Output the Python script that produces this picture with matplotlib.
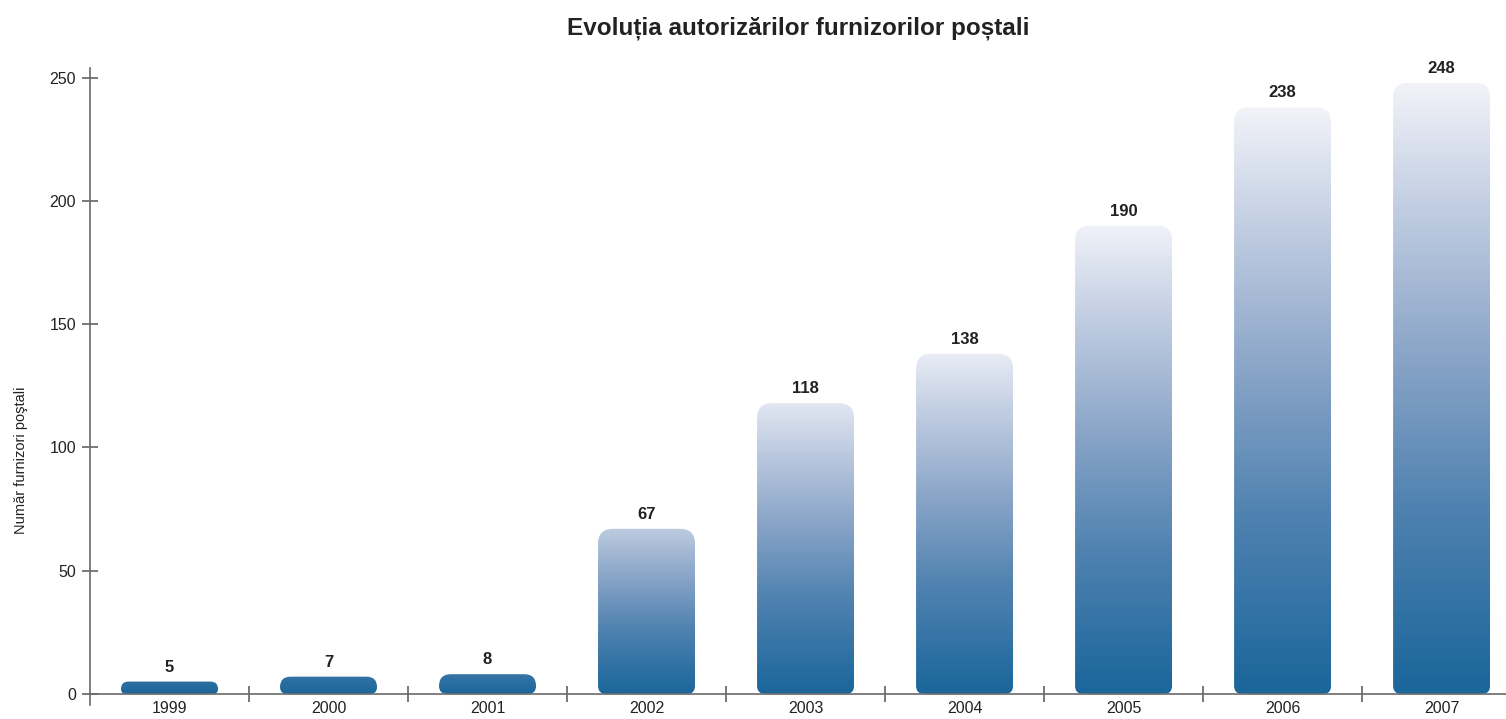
import matplotlib
matplotlib.use("Agg")
import matplotlib.pyplot as plt
import numpy as np
from matplotlib.path import Path
from matplotlib.patches import PathPatch
from matplotlib.colors import LinearSegmentedColormap

plt.rcParams['font.family'] = ['Liberation Sans', 'DejaVu Sans']

# data
years = ['1999', '2000', '2001', '2002', '2003', '2004', '2005', '2006', '2007']
furnizori = [5, 7, 8, 67, 118, 138, 190, 238, 248]

title = 'Evoluția autorizărilor furnizorilor poștali'
ylabel = 'Număr furnizori poştali'

# gradient: dark blue at the foot, pale at the top
cmap = LinearSegmentedColormap.from_list('bar', [
    (0.00, '#1b669b'),
    (0.30, '#4f82b0'),
    (0.55, '#8aa5c8'),
    (0.80, '#c3cfe3'),
    (1.00, '#f3f4f9'),
])

W, H = 1506, 719
fig = plt.figure(figsize=(W / 100, H / 100), dpi=100)
ax = fig.add_axes([90 / W, 14 / H, 1 - 90 / W, (705 - 68) / H])

xlo, xhi = -0.5, 8.405
ylo, yhi = -4.5, 254
ax.set_xlim(xlo, xhi)
ax.set_ylim(ylo, yhi)

# pixel size of one data unit, used to keep the corners round
sx = (W - 90) / (xhi - xlo)
sy = (705 - 68) / (yhi - ylo)

bw = 0.61


def bar_path(xc, h):
    hp = h * sy
    rt = min(15.0, hp * 0.6)
    rb = min(8.0, hp * 0.4)
    rtx, rty = rt / sx, rt / sy
    rbx, rby = rb / sx, rb / sy
    x0, x1 = xc - bw / 2, xc + bw / 2
    verts = [
        (x0 + rbx, 0),
        (x1 - rbx, 0),
        (x1, 0), (x1, rby),
        (x1, h - rty),
        (x1, h), (x1 - rtx, h),
        (x0 + rtx, h),
        (x0, h), (x0, h - rty),
        (x0, rby),
        (x0, 0), (x0 + rbx, 0),
        (x0 + rbx, 0),
    ]
    codes = [Path.MOVETO, Path.LINETO,
             Path.CURVE3, Path.CURVE3,
             Path.LINETO,
             Path.CURVE3, Path.CURVE3,
             Path.LINETO,
             Path.CURVE3, Path.CURVE3,
             Path.LINETO,
             Path.CURVE3, Path.CURVE3,
             Path.CLOSEPOLY]
    return Path(verts, codes)


for i, v in enumerate(furnizori):
    patch = PathPatch(bar_path(i, v), facecolor='none', edgecolor='none')
    ax.add_patch(patch)
    # short bars never reach the pale end of the ramp
    f = 1 - np.exp(-v / 45.0)
    t = np.linspace(0, 1, 256) * f
    grad = cmap(t)[:, np.newaxis, :]
    im = ax.imshow(grad, extent=(i - bw / 2, i + bw / 2, 0, v), origin='lower',
                   aspect='auto', interpolation='bilinear', zorder=2)
    im.set_clip_path(patch)
    ax.annotate(str(v), (i, v), xytext=(0, 5), textcoords='offset points',
                ha='center', va='bottom', fontsize=12, fontweight='bold',
                color='#222222')

ax.set_xlim(xlo, xhi)
ax.set_ylim(ylo, yhi)

for s in ['top', 'right']:
    ax.spines[s].set_visible(False)
ax.spines['bottom'].set_position(('data', 0))
for s in ['left', 'bottom']:
    ax.spines[s].set_color('#6a6a6a')
    ax.spines[s].set_linewidth(1.2)

ax.set_yticks([0, 50, 100, 150, 200, 250])
ax.tick_params(axis='y', direction='inout', length=12, width=1.1, color='#555555',
               labelsize=11.5, labelcolor='#222222', pad=4)

ax.set_xticks(range(len(years)))
ax.set_xticklabels(years)
ax.set_xticks(np.arange(0.5, 8.0, 1.0), minor=True)
ax.tick_params(axis='x', which='major', length=0, labelsize=11.5,
               labelcolor='#222222', pad=5)
ax.tick_params(axis='x', which='minor', direction='inout', length=12, width=1.1,
               color='#555555')

ax.set_ylabel(ylabel, fontsize=10.5, color='#222222')
ax.yaxis.set_label_coords(-62 / (W - 90), (705 - 460) / (705 - 68))

ax.set_title(title, fontsize=17.5, fontweight='bold', color='#222222', pad=24)

fig.savefig('out.png', dpi=100)
